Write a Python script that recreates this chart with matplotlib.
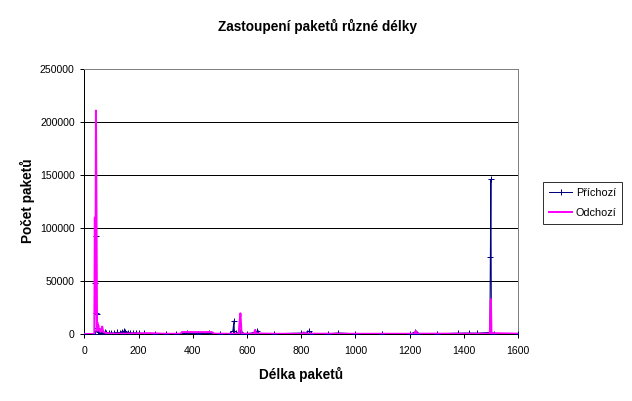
import matplotlib
matplotlib.use("Agg")
import matplotlib.pyplot as plt

plt.rcParams['font.family'] = ['Liberation Sans', 'DejaVu Sans']

title = "Zastoupení paketů různé délky"
x_label = "Délka paketů"
y_label = "Počet paketů"
series_names = ["Příchozí", "Odchozí"]

x_ticks = [0, 200, 400, 600, 800, 1000, 1200, 1400, 1600]
y_ticks = [0, 50000, 100000, 150000, 200000, 250000]

# Příchozí (incoming) – packet length vs. count
in_len = [0, 38, 40, 42, 44, 46, 48, 50, 52, 54, 56, 60, 64, 70, 76, 80, 90,
          100, 110, 120, 130, 140, 145, 150, 160, 170, 180, 190, 200, 220, 260,
          300, 340, 380, 420, 460, 500, 537, 548, 552, 554, 560, 576, 580, 600,
          630, 638, 642, 700, 800, 820, 829, 835, 900, 937, 1000, 1100, 1200,
          1216, 1220, 1226, 1300, 1380, 1420, 1450, 1496, 1498, 1500, 1502,
          1510, 1600]
in_cnt = [0, 0, 48000, 93000, 20000, 19000, 6000, 3000, 4000, 1500, 2500, 1200,
          900, 800, 1500, 600, 700, 1200, 900, 1500, 1200, 2200, 2800, 1500,
          1400, 1300, 1000, 1200, 800, 600, 300, 200, 400, 500, 400, 600, 300,
          400, 3000, 12300, 1000, 500, 2000, 300, 200, 1500, 3000, 500, 200,
          900, 1000, 2800, 300, 200, 1000, 200, 300, 400, 300, 1500, 300, 200,
          800, 900, 800, 1500, 73000, 146000, 500, 200, 0]

# Odchozí (outgoing)
out_len = [0, 37, 39, 41, 43, 45, 47, 48, 50, 52, 54, 56, 60, 64, 66, 70, 80,
           90, 100, 150, 200, 240, 300, 355, 360, 400, 440, 470, 480, 540, 570,
           572, 576, 580, 600, 626, 630, 634, 700, 805, 810, 815, 1000, 1218,
           1223, 1227, 1400, 1496, 1498, 1500, 1502, 1600]
out_cnt = [0, 0, 110000, 20000, 211000, 113000, 3000, 11000, 6000, 8000, 3000,
           4000, 2000, 5000, 7000, 2000, 1000, 500, 300, 300, 600, 800, 200,
           200, 1800, 1800, 1800, 1800, 300, 200, 300, 9000, 19500, 200, 300,
           300, 3800, 500, 200, 200, 1500, 300, 200, 200, 3000, 300, 300, 300,
           16000, 33000, 800, 300]

W, H = 632, 401
fig = plt.figure(figsize=(W / 100, H / 100), dpi=100)
L, R, T, B = 84.3, 518.0, 69.3, 334.0
ax = fig.add_axes([L / W, 1 - B / H, (R - L) / W, (B - T) / H])

px = 0.72  # one pixel in points
ax.plot(in_len, in_cnt, color='#000080', lw=1 * px, marker='+', ms=6 * px,
        mew=1 * px, label=series_names[0], zorder=3)
ax.plot(out_len, out_cnt, color='#FF00FF', lw=2 * px, label=series_names[1],
        zorder=4)

ax.set_xlim(0, 1600)
ax.set_ylim(0, 250000)
ax.set_xticks(x_ticks)
ax.set_yticks(y_ticks)
ax.set_xticklabels([str(v) for v in x_ticks])
ax.set_yticklabels([str(v) for v in y_ticks])
ax.tick_params(direction='out', length=4 * px, width=1 * px, colors='black',
               labelsize=7.6, pad=4)
ax.tick_params(axis='x', pad=5.5)

for v in y_ticks[1:-1]:
    ax.axhline(v, color='black', lw=1 * px, zorder=1)

ax.spines['left'].set_color('black')
ax.spines['bottom'].set_color('black')
ax.spines['top'].set_color('#808080')
ax.spines['right'].set_color('#808080')
for s in ax.spines.values():
    s.set_linewidth(1 * px)

fig.text(317 / W, 1 - 26 / H, title, ha='center', va='center',
         fontsize=9.8, fontweight='bold')
fig.text(301 / W, 1 - 374 / H, x_label, ha='center', va='center',
         fontsize=9.8, fontweight='bold')
fig.text(27 / W, 1 - 201 / H, y_label, ha='center', va='center',
         rotation=90, fontsize=9.8, fontweight='bold')

leg = fig.legend(loc='upper left', bbox_to_anchor=(542.7 / W, 1 - 182 / H),
                 frameon=True, fancybox=False, shadow=False, fontsize=7.8,
                 handlelength=2.2, handletextpad=0.3, borderpad=0.55,
                 labelspacing=0.9, borderaxespad=0)
leg.get_frame().set_edgecolor('black')
leg.get_frame().set_linewidth(1 * px)

fig.savefig('out.png', dpi=100, facecolor='white')
